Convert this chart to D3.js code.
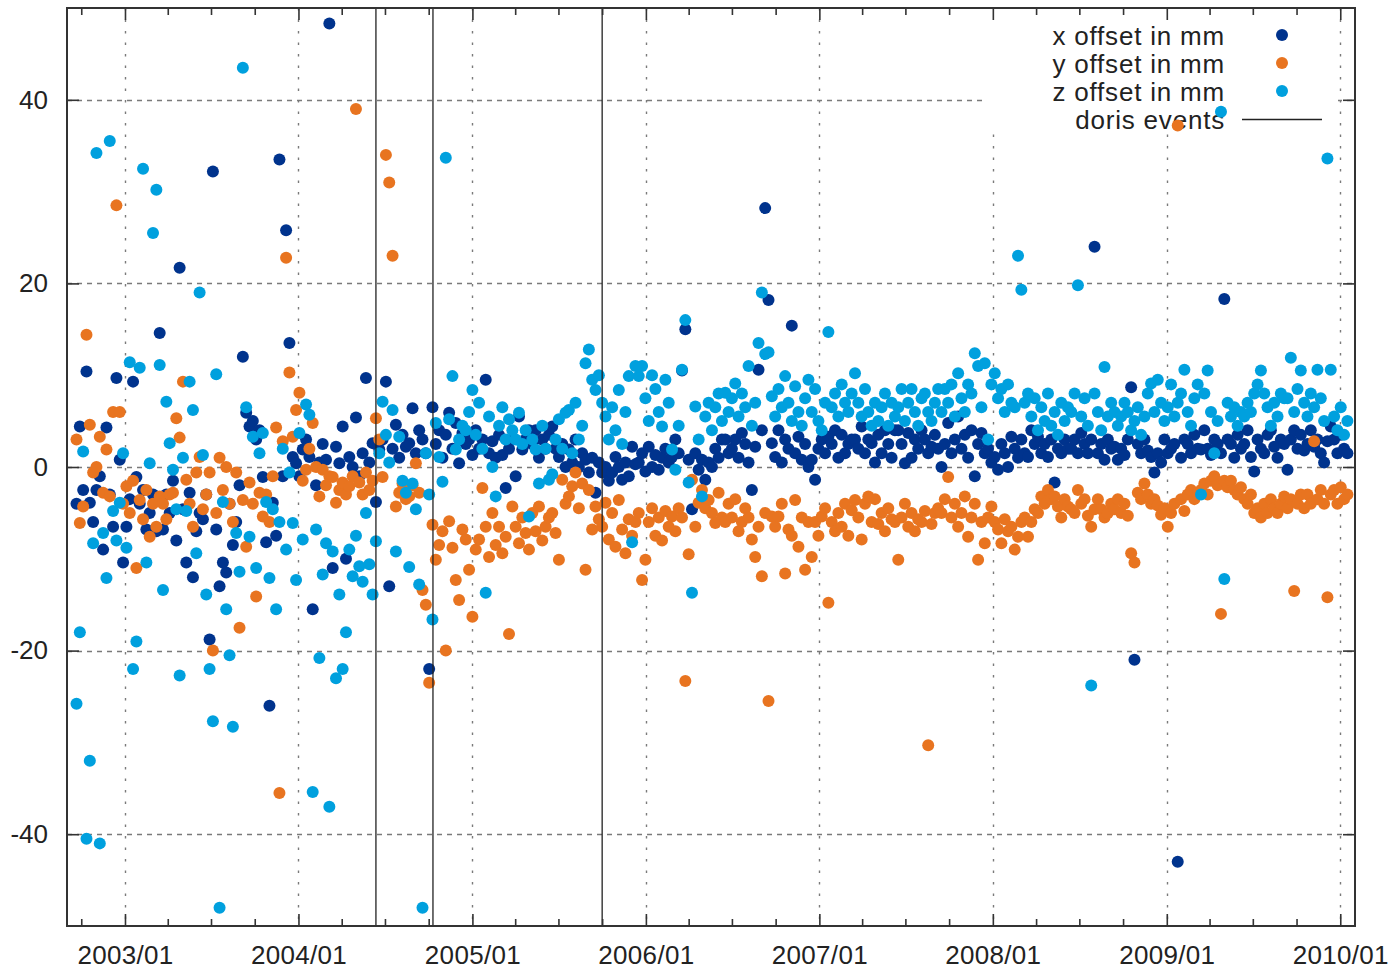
<!DOCTYPE html>
<html>
<head>
<meta charset="utf-8">
<script src="https://cdn.jsdelivr.net/npm/d3@7"></script>
<style>
  html, body { margin: 0; padding: 0; background: #fff; }
  svg { display: block; }
  text { font-family: "Liberation Sans", Arial, Helvetica, sans-serif; fill: #222; }
</style>
</head>
<body>
<svg id="chart" width="1390" height="969"></svg>
<script>
// Weekly station offset solutions (mm), one value per week starting at firstEpoch.
const firstEpoch = "2002-09-21";
const stepDays = 7;

const xOffset = [
  -4, 4.4, -2.5, 10.4, -3.9, -6, -2.5, -1, -9, 4.3, -3, -6.5, 9.7,
  0.8, -10.4, -6.5, -3.5, 9.3, -1.1, -4, -2.5, -6.8, -5, -3, -7, 14.6,
  -6.8, -3, -5, -1.5, -8, 21.7, -4.6, -10.4, -2.8, -12, -7, -5, -5.7,
  -3, -18.8, 32.2, -6.8, -13, -10.4, -11.5, -4, -8.5, -6, -2, 12, 5.9,
  4.4, 5, 3, 4, -1.1, -8.2, -26, -3.9, -7.5, 33.5, -1, 25.8, 13.5,
  1.1, 0.4, -1, 1.9, 3, 1.1, -15.5, -2, 0.5, 2.5, 0.8, 48.3, -11,
  2.2, 0.4, 4.4, -10, 1.1, 0, 5.4, -1, 1.5, 9.7, 0.5, 2.6, -3.8,
  1.9, 3, 9.3, -13, 2, 4.6, 1, 3.5, 2.2, 2.6, 6.4, 1.5, 4,
  3, 1.5, -22, 6.5, 2.5, 4, 1, 3.5, 5.9, 2, 4.8, 0.4, 3.7,
  2.5, 3, 1.3, 4, 2, 3, 9.5, 1.5, 2.8, 1, 3.5, 1.3, -2.3,
  2, 3, -1, 5.5, 1.9, 3, 4, 2.5, 4, 1, 3, 2, 3.5,
  4.4, 2, 1.1, 2.5, 0, 1.9, 0.5, 3, 0, 1.5, 0.8, -0.6, 1,
  -2.8, 0.5, -0.6, 0, -1.5, -0.6, 1.1, 0, -1.4, 0.5, -1, 2.2, 0.3,
  0.5, 1.5, -0.5, 2.2, 0, 1.3, -0.3, 1, 2, 0.5, 1.1, 3, 1.5,
  10.5, 15, 0.8, -4.6, 1.5, -0.3, 0.8, -1.4, 0.5, 0, 2, 1, 3,
  3, 1.5, 2, 3, 1, 3.7, 2.5, 0.5, -2.5, 2.2, 10.6, 4, 28.2,
  18.2, 2.6, 1.1, 4, 0.5, 3, 2, 15.4, 1.5, 3.3, 0.8, 2.5, 0,
  0.8, -1.4, 2, 3, 1.5, 3.3, 2.5, 4, 1, 3.5, 1.5, 2.5, 3,
  3, 2, 4.4, 1.5, 3, 2.6, 0.5, 3.5, 1.5, 4, 2.5, 1, 4,
  4, 2.5, 0.4, 3.7, 1, 3, 2, 4, 3, 1.5, 2.2, 3.5, 2,
  0, 2.5, 4.8, 1.5, 3, 5.5, 2, 3.5, 1, 4, -1, 2.5, 3.7,
  1.5, 2, 0.5, 1.1, -0.3, 2.5, 1.5, 0, 3.3, 2, 1, 3, 1.5,
  1.1, 4, 2.5, 3.3, 1.5, 2.5, 1.1, 3, -1.7, 2, 1.5, 3, 2,
  2, 3, 1.5, 3.7, 2.5, 1.5, 3, 24, 1.5, 2.5, 0.8, 3, 2,
  2.2, 0.8, 2, 1.3, 3, 8.7, -21, 2.5, 1.5, 3, 1.8, 1.1, -0.6,
  1.5, 0.5, 3, 1.5, 2, 2.5, -43, 1, 3, 2.5, 1.5, 3.5, 2,
  1.9, 4, 2, 1.3, 3, 2.5, 1.5, 18.3, 3, 2.5, 1, 3.5, 2,
  2.5, 4, 1.1, -0.5, 3, 2, 1.5, 3.5, 4, 2.2, 1, 3, 2.5,
  -0.3, 3, 4, 2, 3.5, 1.8, 2.5, 4, 2.2, 3, 1.5, 0.5, 2.8,
  4.4, 3, 1.5, 3.5, 2, 1.5
];

const yOffset = [
  3, -6.1, -4.3, 14.4, 4.6, -0.6, 0, 3.3, -2.8, 1.9, -3.2, 6, 28.5,
  6, -4, -2.1, -5, -1.5, -11, -3.6, -5.7, -2.5, -7.6, -4, -6.5, -3.2,
  -4, -5.7, -3, -2.8, 5.3, 3.2, 9.3, -1.4, -4, -6.5, -0.6, 1.1, -4.6,
  -3, -0.6, -20, -5, 1, -2.5, 0, -4, -6, -0.6, -17.5, -3.6, -8.7,
  -1.7, -4, -14.1, -2.8, -5.4, -3, -6, -1, 4.3, -35.5, 2.8, 22.8, 10.3,
  3.3, 6.2, 8.1, -1.5, -0.3, 2, 4.8, 0, -3.2, -0.3, -2, -1, -1.1,
  -3.9, -2.5, -1.7, -3, -2.1, -1, 39, -1.7, -3, -0.6, -2.5, -1.5, 5.3,
  3, -1.1, 34, 31, 23, -4.3, -2.8, -1.8, -3.5, -3.2, -2, 0.4, -2.8,
  -13.4, -15, -23.5, -6.3, -10.1, -8.5, -7, -20, -5.9, -8.8, -12.3, -14.5, -6.8,
  -7.9, -11.2, -16.3, -9, -7.9, -2.3, -6.5, -9.8, -5, -8.5, -6.5, -9.4, -7.6,
  -18.2, -4.3, -6.5, -8.3, -5.5, -7.2, -9, -5, -7, -4.3, -8, -6.5, -5.5,
  -5, -7.2, -10.1, -1.4, -4, -3.2, -2.1, -0.6, -4.5, -1.8, -11.2, -2.5, -6.8,
  -4.3, -5.7, -6.5, -3.9, -7.9, -5, -8.7, -3.6, -6.8, -9.4, -5.7, -7.5, -6,
  -5, -12.3, -10.1, -6, -4.5, -7.5, -5.5, -8, -4.8, -6.5, -5.4, -7, -4.5,
  -5.5, -23.3, -9.5, -1.4, -6.5, -3.9, -2.5, -4.5, -3.6, -5, -6.1, -2.8, -5.5,
  -6, -4, -5.5, -3.5, -7, -6, -4.5, -5.5, -7.9, -9.8, -6.5, -11.9, -5,
  -25.5, -5.4, -6.5, -5.4, -4, -11.6, -6.8, -7.5, -3.6, -8.7, -5.5, -11.2, -6,
  -9.8, -6, -7.5, -5.4, -4.5, -14.8, -6, -7, -5, -6.5, -4, -7.5, -4.7,
  -3.6, -5.5, -7.9, -4, -3.2, -6, -3.5, -6.2, -5, -7, -4.5, -5.7, -6,
  -10.1, -5.5, -4, -6.5, -5, -7, -5.7, -6, -4.8, -30.3, -6.2, -5, -4.5,
  -5, -3.5, -1.1, -5.5, -4, -6.5, -5, -3.2, -7.6, -5.5, -4, -10.1, -6,
  -8.3, -5.5, -4.3, -6, -6.8, -8.3, -5.7, -7, -6.5, -9, -7.6, -6, -5.5,
  -7.6, -6, -4.6, -5, -3.2, -4, -2.5, -3.5, -3.2, -4.3, -5.5, -3.5, -4.3,
  -4.6, -5, -2.5, -4, -3.5, -5.3, -6.5, -4.6, -3.5, -4.6, -5.5, -5, -4,
  -4.6, -3.5, -5, -4, -5.3, -9.4, -10.4, -2.8, -3.5, -1.8, -3, -4, -3.5,
  -4.2, -5.2, -4.5, -6.5, -5, -4, 37.2, -3.5, -4.8, -3, -2.5, -3.5, -3,
  -2.5, -1.8, -3, -1.5, -1, -2, -16, -1.5, -2.2, -1.5, -2.5, -3, -2.2,
  -3.5, -4, -3, -5, -4.5, -5.5, -4, -5, -3.5, -4.5, -5, -4, -3.2,
  -4.5, -3.5, -13.5, -4, -3, -4.5, -3, -4, 2.8, -3.5, -2.5, -4, -14.2,
  -3, -2.5, -4, -2.2, -3.5, -3
];

const zOffset = [
  -25.8, -18, 1.7, -40.5, -32, -8.3, 34.2, -41, -7.2, -12.1, 35.5, -4.8, -8,
  -3.9, 1.5, -8.8, 11.4, -22, -19, 10.8, 32.5, -10.4, 0.4, 25.5, 30.2, 11.1,
  -13.4, 7.1, 2.6, -0.3, -4.6, -22.7, 1, -4.8, 9.3, 6.2, -9.4, 19, 1.3,
  -13.9, -22, -27.7, 10.1, -48, -3.8, -15.5, -20.5, -28.3, -7.2, -11.4, 43.5, 6.5,
  -7.6, 3.3, -11, 1.5, 3.7, -3.8, -12.1, -4.6, -15.5, -6, 2, -9, -0.6,
  -6.1, -12.3, 3.7, -7.9, 6.8, 5.7, -35.4, -6.8, -20.8, -11.7, -8.3, -37, -9.2,
  -23, -13.9, -22, -18, -9, -11.9, -7.5, -10.8, -12.5, -5, -10.6, -13.9, -8.1,
  1.5, 7.1, 3.5, 0.5, 6.2, -9.2, 3.3, -1.5, -2.8, -10.9, -1.8, -4.6, -12.8,
  -48, 1.5, -3, -16.6, 4.8, 1.1, -1.6, 33.7, 5.2, 9.9, 1.9, 3, 4.5,
  4, 6, 8.4, 3.5, 7, 2, -13.7, 5.5, 0, -3.2, 4.5, 6.5, 3,
  5.2, 4, 3, 5.9, 2.5, 4, -5.4, 3, 1.9, -1.8, 4.5, 2, -1.4,
  -0.8, 3, 5.2, 2, 5.9, 6.2, 1.5, 7, 3, 4.5, 11.3, 12.8, 9.5,
  8.4, 10, 7, 5.5, 3, 6.5, 4, 8.4, 2.5, 6, 9.9, -8.2, 11,
  9.9, 11, 7.5, 5, 10, 8.5, 6, 4.4, 9.5, 7, 1.9, -0.3, 4.5,
  10.6, 16, -1.7, -13.7, 6.6, 3, -3.2, 5.5, 7, 4, 6.5, 8, 5,
  8.1, 6, 7.5, 9.1, 5.5, 8, 6.5, 11, 4.5, 7, 13.5, 19, 12.3,
  12.5, 7.7, 5.5, 8.5, 6.5, 9.9, 7, 5, 8.8, 6, 4.5, 7.5, 9.5,
  6, 8.5, 5, 4, 7, 14.7, 6.5, 8, 5.5, 9, 7, 6, 8,
  10.2, 7, 5.5, 8.5, 6, 4.5, 7, 5, 6.5, 8, 4.5, 7, 5.5,
  6.5, 8.5, 5, 7, 8.5, 6, 4.5, 7.5, 8, 6, 5, 7, 8.5,
  6, 8.5, 7, 9, 5.5, 10.2, 7.5, 6, 9, 8, 12.4, 11, 6.5,
  11.3, 3, 9, 10.2, 7.5, 8.5, 6, 9, 7, 6.5, 23, 19.3, 7,
  8, 5.5, 7.5, 4, 6.5, 5, 8, 4.5, 6, 3.5, 7, 5, 6.5,
  6, 8, 19.8, 5.5, 7.5, 4.5, -23.8, 8, 6, 4, 10.9, 5.5, 7,
  6, 4.5, 5.5, 7, 6, 4, 5, 6.5, 3.5, 5.5, 8, 9.1, 6,
  9.5, 7, 5, 6.5, 9, 5.5, 7, 8, 10.6, 6, 4.5, 7.5, 9,
  -3, 8, 10.5, 6, 1.5, 5, 38.7, -12.2, 7, 5.5, 6.5, 4.5, 6,
  5.5, 7, 6, 8, 9, 10.5, 8, 6.5, 4.5, 7, 5.5, 8, 7.5,
  7.5, 11.9, 6, 8.5, 10.5, 7, 5.5, 8, 6.5, 10.6, 7.5, 5, 33.6,
  10.6, 5.5, 4, 6.5, 3.5, 5
];

// Dates of DORIS equipment events, drawn as vertical lines
const dorisEvents = ["2004-06-12", "2004-10-10", "2005-10-01"];

const seriesLabels = ["x offset in mm", "y offset in mm", "z offset in mm"];
const eventLabel = "doris events";
const yTickValues = [-40, -20, 0, 20, 40];
const xDomain = ["2002-09-01", "2010-02-01"];
const yDomain = [-50, 50];

// ---- drawing ----
const colors = ["#00338d", "#e87420", "#00a0de"];
const plotLeft = 67, plotRight = 1355, plotTop = 8, plotBottom = 926;
const parse = d3.utcParse("%Y-%m-%d");

const x = d3.scaleUtc().domain(xDomain.map(parse)).range([plotLeft, plotRight]);
const y = d3.scaleLinear().domain(yDomain).range([plotBottom, plotTop]);

const t0 = parse(firstEpoch);
const series = [xOffset, yOffset, zOffset].map((vals, k) => ({
  label: seriesLabels[k],
  color: colors[k],
  points: vals.map((v, i) => ({ date: d3.utcDay.offset(t0, i * stepDays), value: v }))
}));

const svg = d3.select("#chart");
const [d0, d1] = x.domain();
const years = d3.utcYear.range(d3.utcYear.ceil(d0), d1);
const quarters = d3.utcMonth.every(3).range(d0, d1).filter(d => d.getUTCMonth() !== 0);

// grid
const grid = svg.append("g").attr("stroke", "#7a7a7a").attr("stroke-width", 1.4).attr("fill", "none");
grid.selectAll("line.v").data(years).join("line")
  .attr("class", "v")
  .attr("x1", d => Math.round(x(d)) + 0.5).attr("x2", d => Math.round(x(d)) + 0.5)
  .attr("y1", plotTop).attr("y2", plotBottom)
  .attr("stroke-dasharray", "2.5,9");
grid.selectAll("line.h").data(yTickValues).join("line")
  .attr("class", "h")
  .attr("x1", plotLeft).attr("x2", plotRight)
  .attr("y1", d => Math.round(y(d)) + 0.5).attr("y2", d => Math.round(y(d)) + 0.5)
  .attr("stroke-dasharray", "5,5");

// legend box (opaque, covers the grid)
const legend = svg.append("g");
legend.append("rect")
  .attr("x", 984).attr("y", plotTop + 1).attr("width", 354).attr("height", 123)
  .attr("fill", "#fff");
const legendItems = seriesLabels.concat([eventLabel]);
legend.selectAll("text").data(legendItems).join("text")
  .attr("x", 1225).attr("y", (d, i) => 45 + i * 28)
  .attr("text-anchor", "end").attr("font-size", 26)
  .attr("letter-spacing", 0.8)
  .text(d => d);
legend.selectAll("circle").data(series).join("circle")
  .attr("cx", 1282).attr("cy", (d, i) => 35 + i * 28).attr("r", 6)
  .attr("fill", d => d.color);
legend.append("line")
  .attr("x1", 1242).attr("x2", 1322).attr("y1", 119.5).attr("y2", 119.5)
  .attr("stroke", "#222").attr("stroke-width", 1.3);

// points
const plot = svg.append("g");
series.forEach(s => {
  plot.append("g").attr("fill", s.color)
    .selectAll("circle").data(s.points).join("circle")
    .attr("cx", d => x(d.date))
    .attr("cy", d => y(d.value))
    .attr("r", 6);
});

// event lines
svg.append("g").selectAll("line").data(dorisEvents.map(parse)).join("line")
  .attr("x1", d => x(d)).attr("x2", d => x(d))
  .attr("y1", plotTop).attr("y2", plotBottom)
  .attr("stroke", "#222").attr("stroke-width", 1.3);

// axes (ticks point inward)
function styleAxis(g) {
  g.select(".domain").remove();
  g.selectAll(".tick line").attr("stroke", "#333").attr("stroke-width", 1.6);
  g.selectAll(".tick text").attr("font-size", 26).attr("fill", "#222")
    .attr("font-family", "'Liberation Sans', Arial, sans-serif");
}
const fmt = d3.utcFormat("%Y/%m");

svg.append("g").attr("transform", `translate(0,${plotBottom})`)
  .call(d3.axisBottom(x).tickValues(years).tickFormat(fmt).tickSize(-12).tickPadding(20))
  .call(styleAxis)
  .call(g => g.selectAll(".tick text").attr("letter-spacing", 0.3));
svg.append("g").attr("transform", `translate(0,${plotBottom})`)
  .call(d3.axisBottom(x).tickValues(quarters).tickFormat("").tickSize(-7))
  .call(styleAxis);
svg.append("g").attr("transform", `translate(0,${plotTop})`)
  .call(d3.axisTop(x).tickValues(years).tickFormat("").tickSize(-12))
  .call(styleAxis);
svg.append("g").attr("transform", `translate(0,${plotTop})`)
  .call(d3.axisTop(x).tickValues(quarters).tickFormat("").tickSize(-7))
  .call(styleAxis);
svg.append("g").attr("transform", `translate(${plotLeft},0)`)
  .call(d3.axisLeft(y).tickValues(yTickValues).tickFormat(d => String(d)).tickSize(-12).tickPadding(19))
  .call(styleAxis);
svg.append("g").attr("transform", `translate(${plotRight},0)`)
  .call(d3.axisRight(y).tickValues(yTickValues).tickFormat("").tickSize(-12))
  .call(styleAxis);

// border
svg.append("rect")
  .attr("x", plotLeft).attr("y", plotTop).attr("width", plotRight - plotLeft).attr("height", plotBottom - plotTop)
  .attr("fill", "none").attr("stroke", "#333").attr("stroke-width", 2);
</script>
</body>
</html>
